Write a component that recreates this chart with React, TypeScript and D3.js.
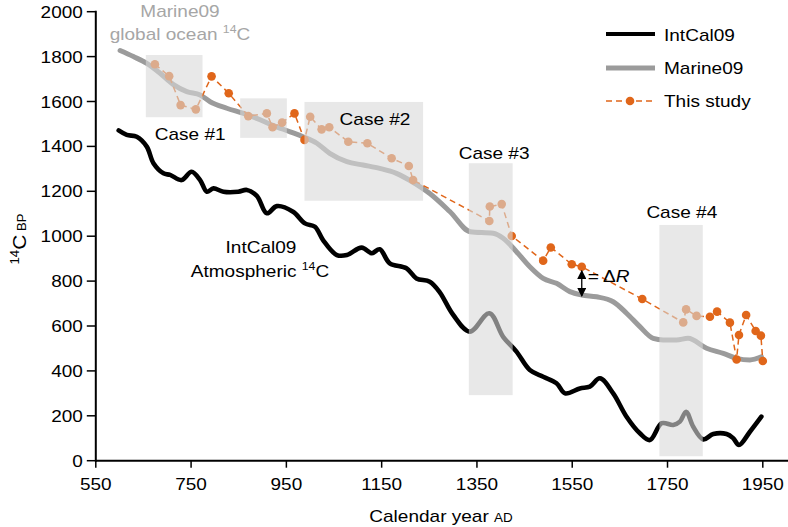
import React from 'react';
import * as d3 from 'd3';

// IntCal09 atmospheric curve (calendar year AD, 14C BP)
const intcalYear = [598, 615, 636, 657, 671, 692, 706, 730, 751, 769, 783, 797, 818, 849, 867, 888, 909, 930, 964, 989, 1010, 1027, 1056, 1077, 1108, 1129, 1146, 1167, 1202, 1223, 1251, 1272, 1300, 1335, 1376, 1405, 1433, 1461, 1489, 1517, 1535, 1566, 1587, 1608, 1636, 1664, 1692, 1713, 1738, 1762, 1776, 1789, 1804, 1825, 1846, 1874, 1888, 1900, 1923, 1947];
const intcalC14 = [1471, 1451, 1443, 1399, 1325, 1280, 1273, 1250, 1287, 1250, 1198, 1213, 1198, 1198, 1206, 1180, 1102, 1134, 1109, 1057, 1042, 983, 916, 916, 949, 924, 942, 879, 857, 812, 797, 750, 650, 575, 657, 552, 486, 404, 374, 345, 300, 322, 330, 367, 300, 196, 122, 92, 167, 159, 174, 218, 151, 95, 119, 119, 100, 70, 129, 196];

// Marine09 global ocean curve
const marineYear = [601, 629, 657, 685, 713, 741, 769, 790, 825, 860, 888, 920, 958, 985, 1014, 1041, 1077, 1111, 1146, 1181, 1216, 1251, 1293, 1336, 1384, 1405, 1433, 1461, 1489, 1517, 1545, 1570, 1601, 1636, 1664, 1692, 1720, 1741, 1769, 1793, 1832, 1867, 1895, 1923, 1947];
const marineC14 = [1827, 1800, 1770, 1726, 1675, 1644, 1629, 1599, 1570, 1547, 1525, 1495, 1465, 1443, 1414, 1369, 1332, 1317, 1302, 1280, 1240, 1190, 1110, 1020, 1013, 991, 931, 864, 812, 790, 753, 738, 730, 708, 657, 597, 545, 538, 538, 545, 501, 478, 456, 449, 463];

// This study
const studyYear = [674, 704, 728, 760, 793, 829, 870, 909, 921, 941, 967, 988, 1000, 1024, 1040, 1080, 1120, 1171, 1207, 1216, 1376, 1377, 1402, 1423, 1489, 1505, 1549, 1570, 1697, 1783, 1789, 1811, 1839, 1854, 1881, 1895, 1900, 1915, 1935, 1946, 1950];
const studyC14 = [1766, 1713, 1584, 1565, 1712, 1637, 1535, 1547, 1485, 1506, 1547, 1429, 1532, 1476, 1485, 1421, 1414, 1347, 1313, 1250, 1068, 1132, 1143, 1001, 891, 950, 875, 864, 720, 616, 674, 645, 641, 664, 615, 451, 560, 649, 578, 557, 444];

// shaded case windows
const boxYearFrom = [655, 853, 988, 1333, 1733];
const boxYearTo = [774, 951, 1237, 1425, 1824];
const boxC14Low = [1530, 1438, 1158, 292, 20];
const boxC14High = [1807, 1614, 1598, 1325, 1050];

const caseNames = ['Case #1', 'Case #2', 'Case #3', 'Case #4'];
const caseLabelYear = [748, 1136, 1386, 1780];
const caseLabelC14 = [1428, 1495, 1344, 1081];

const xTicks = [550, 750, 950, 1150, 1350, 1550, 1750, 1950];
const yTicks = [0, 200, 400, 600, 800, 1000, 1200, 1400, 1600, 1800, 2000];

const deltaRYear = 1570;
const deltaRC14 = [864, 738];

const W = 788;
const H = 527;
const FONT = 'Liberation Sans, Arial, Helvetica, sans-serif';
const ORANGE = '#e0661a';
const GREY = '#9b9b9b';

const x = d3.scaleLinear().domain([550, 1950]).range([95.8, 762.8]);
const y = d3.scaleLinear().domain([0, 2000]).range([460.7, 11.7]);

const Txt = ({ x, y, size = 17, anchor = 'middle', fill = '#000', sx = 1.12, children }: any) => (
  <g transform={`translate(${x},${y}) scale(${sx},1)`}>
    <text textAnchor={anchor} fontSize={size} fill={fill} fontFamily={FONT}>
      {children}
    </text>
  </g>
);

export default function App() {
  const intcalPath = d3.line<[number, number]>()
    .x(d => x(d[0]))
    .y(d => y(d[1]))
    .curve(d3.curveCatmullRom.alpha(0.5))(intcalYear.map((yr, i) => [yr, intcalC14[i]]));

  const marinePath = d3.line<[number, number]>()
    .x(d => x(d[0]))
    .y(d => y(d[1]))
    .curve(d3.curveMonotoneX)(marineYear.map((yr, i) => [yr, marineC14[i]]));

  const studyPts: [number, number][] = studyYear.map((yr, i) => [yr, studyC14[i]]);
  const studyPath = d3.line<[number, number]>()
    .x(d => x(d[0]))
    .y(d => y(d[1]))(studyPts);

  const arrowX = x(deltaRYear);
  const arrowTop = y(deltaRC14[0]) + 4;
  const arrowBot = y(deltaRC14[1]) + 1;

  return (
    <svg width={W} height={H} style={{ position: 'absolute', left: 0, top: 0, background: '#fff' }}>
      <defs>
        <marker id="ah" viewBox="0 0 10 10" refX="9" refY="5" markerWidth="7" markerHeight="7" orient="auto-start-reverse">
          <path d="M0,0 L10,5 L0,10 z" fill="#000" />
        </marker>
      </defs>

      {/* curves */}
      <path d={intcalPath || ''} fill="none" stroke="#000" strokeWidth={4.6} strokeLinejoin="round" strokeLinecap="round" />
      <path d={marinePath || ''} fill="none" stroke={GREY} strokeWidth={5} strokeLinejoin="round" strokeLinecap="round" />

      {/* this study */}
      <path d={studyPath || ''} fill="none" stroke={ORANGE} strokeWidth={1.5} strokeDasharray="6,4" />
      {studyPts.map((d, i) => (
        <circle key={i} cx={x(d[0])} cy={y(d[1])} r={4.3} fill={ORANGE} />
      ))}

      {/* case windows drawn over the data */}
      {boxYearFrom.map((yr, i) => (
        <rect
          key={i}
          x={x(yr)}
          y={y(boxC14High[i])}
          width={x(boxYearTo[i]) - x(yr)}
          height={y(boxC14Low[i]) - y(boxC14High[i])}
          fill="rgb(217,217,217)"
          fillOpacity={0.6}
        />
      ))}

      {/* axes */}
      <line x1={x(550)} x2={W} y1={y(0)} y2={y(0)} stroke="#000" strokeWidth={2} />
      <line x1={x(550)} x2={x(550)} y1={y(2000) - 1} y2={y(0) + 1} stroke="#000" strokeWidth={2} />
      {yTicks.map(t => (
        <g key={t}>
          <line x1={x(550) - 9} x2={x(550)} y1={y(t)} y2={y(t)} stroke="#000" strokeWidth={1.5} />
          <Txt x={x(550) - 13} y={y(t) + 6} size={16.5} sx={1.15} anchor="end">{t}</Txt>
        </g>
      ))}
      {xTicks.map(t => (
        <g key={t}>
          <line x1={x(t)} x2={x(t)} y1={y(0)} y2={y(0) + 7} stroke="#000" strokeWidth={1.5} />
          <Txt x={x(t)} y={490} size={16.5} sx={1.15}>{t}</Txt>
        </g>
      ))}

      {/* axis titles */}
      <Txt x={441} y={521.5}>
        Calendar year <tspan fontSize={12}>AD</tspan>
      </Txt>
      <g transform="translate(26,239) rotate(-90) scale(1.1,1)">
        <text textAnchor="middle" fontSize={19} fontFamily={FONT}>
          <tspan fontSize={12} dy={-7}>14</tspan>
          <tspan dy={7}>C</tspan>
          <tspan fontSize={12}> BP</tspan>
        </text>
      </g>

      {/* annotations */}
      {caseNames.map((c, i) => (
        <Txt key={c} x={x(caseLabelYear[i])} y={y(caseLabelC14[i])}>{c}</Txt>
      ))}
      <Txt x={180} y={17} fill="#a6a6a6">Marine09</Txt>
      <Txt x={180} y={40} fill="#a6a6a6">
        global ocean <tspan fontSize={11} dy={-7}>14</tspan><tspan dy={7}>C</tspan>
      </Txt>
      <Txt x={261} y={253}>IntCal09</Txt>
      <Txt x={260} y={277}>
        Atmospheric <tspan fontSize={11} dy={-7}>14</tspan><tspan dy={7}>C</tspan>
      </Txt>

      {/* delta R */}
      <line x1={arrowX} x2={arrowX} y1={arrowTop} y2={arrowBot} stroke="#000" strokeWidth={1.3}
        markerStart="url(#ah)" markerEnd="url(#ah)" />
      <Txt x={arrowX + 6} y={(arrowTop + arrowBot) / 2 - 1} anchor="start">
        = Δ<tspan fontStyle="italic">R</tspan>
      </Txt>

      {/* legend */}
      <line x1={606} x2={655} y1={34} y2={34} stroke="#000" strokeWidth={4} />
      <Txt x={664} y={40.5} anchor="start">IntCal09</Txt>
      <line x1={606} x2={655} y1={68} y2={68} stroke={GREY} strokeWidth={5} />
      <Txt x={664} y={74} anchor="start">Marine09</Txt>
      <line x1={606} x2={655} y1={101} y2={101} stroke={ORANGE} strokeWidth={1.5} strokeDasharray="6,4" />
      <circle cx={630} cy={101} r={4.3} fill={ORANGE} />
      <Txt x={664} y={107} anchor="start">This study</Txt>
    </svg>
  );
}
